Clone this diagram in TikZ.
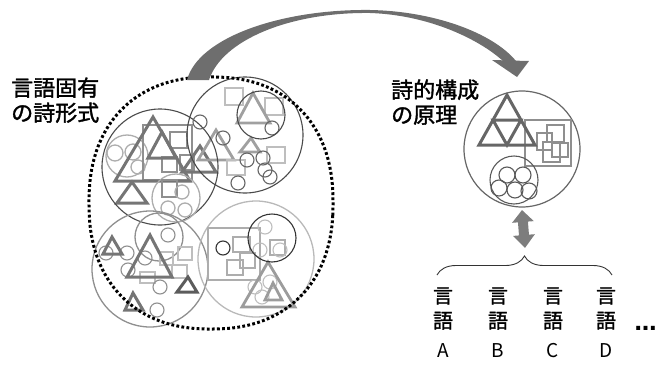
\documentclass[tikz,border=0pt]{standalone}
\usepackage{fontspec}
\newfontfamily\jp{Noto Sans CJK JP}[FakeBold=1.6]
\newfontfamily\jpreg{Noto Sans CJK JP}
\newfontfamily\dv{DejaVu Sans}
\usetikzlibrary{decorations.pathreplacing,arrows.meta}
\definecolor{arrowgray}{HTML}{6E6E6E}
\definecolor{dkline}{HTML}{4A4A4A}
\definecolor{trigray}{HTML}{757575}
\definecolor{midgray}{HTML}{8F8F8F}
\definecolor{ltgray}{HTML}{ADADAD}
\definecolor{vltgray}{HTML}{BEBEBE}
\begin{document}
\begin{tikzpicture}[x=1pt,y=-1pt,
  dk/.style={draw=dkline, line width=1.1pt},
  lt/.style={draw=ltgray, line width=1.3pt},
  md/.style={draw=midgray, line width=1.3pt},
  tri/.style={draw=trigray, line width=3pt},
  trilt/.style={draw=midgray!85, line width=2.8pt},
  sqm/.style={draw=midgray, line width=2pt},
  sql/.style={draw=vltgray, line width=2pt},
  sc/.style={draw=#1, line width=1.1pt},
  dotring/.style={draw=black, line width=3pt, dash pattern=on 2.8pt off 2.3pt},
  jptext/.style={font=\jp\fontsize{22}{22}\selectfont, inner sep=0pt, anchor=base west},
  coltext/.style={font=\jp\fontsize{20}{20}\selectfont, inner sep=0pt, anchor=base},
  lettext/.style={font=\jpreg\fontsize{19}{19}\selectfont, inner sep=0pt, anchor=base}]
\useasboundingbox (0,0) rectangle (662,367);

% ---------- upper-left cluster (A) ----------
\draw[lt] (127,156) circle[radius=21pt];
\foreach \p/\r in {{(115,153)}/8,{(133,152)}/8,{(138,167)}/7}
  \draw[lt] \p circle[radius=\r pt];
\draw[sqm] (143,125) rectangle (192,180);
\draw[sqm] (170,132) rectangle (187,148);
\draw[sqm] (162,157) rectangle (177,172);
\draw[sqm] (180,155) rectangle (194,170);
\draw[tri] (153,117) -- (115,181) -- (190,181) -- cycle;
\draw[tri] (162,132) -- (148,158) -- (176,158) -- cycle;
\draw[tri] (132,182) -- (117,203) -- (147,203) -- cycle;
\draw[tri] (200,146) -- (182,172) -- (216,172) -- cycle;
\draw[trilt] (216,130) -- (198,160) -- (234,160) -- cycle;
\draw[dk] (160,167) circle[radius=58pt];

% circle G
\draw[lt] (176,198) circle[radius=24pt];
\draw[sqm] (162,180) rectangle (177,197);
\foreach \p in {(182,192),(168,208),(185,210)}
  \draw[lt] \p circle[radius=7pt];

% ---------- upper-right cluster (B) ----------
\draw[sql] (225,88) rectangle (243,105);
\draw[sql] (265,98) rectangle (283,115);
\draw[sql] (267,147) rectangle (285,163);
\draw[sql] (227,160) rectangle (245,175);
\draw[trilt] (253,93) -- (237,123) -- (270,123) -- cycle;
\draw[trilt] (251,138) -- (240,152) -- (260,152) -- cycle;
\foreach \p in {(200,122),(223,138),(272,128),(247,160),(263,158),(265,170),(270,177),(238,183)}
  \draw[sc=dkline!85] \p circle[radius=7pt];
\draw[dk] (245,135) circle[radius=58pt];
\draw[dk] (261,115) circle[radius=24pt];

% ---------- lower-left cluster (D) ----------
\draw[md] (150,269) circle[radius=58pt];
\draw[md] (159,237) circle[radius=24pt];
\draw[sql] (140,272) rectangle (155,283);
\draw[sql] (160,252) rectangle (173,265);
\draw[sql] (178,247) rectangle (192,260);
\draw[sql] (172,265) rectangle (187,278);
\foreach \p in {(106,253),(127,253),(145,258),(128,270),(168,235),(160,287),(157,310)}
  \draw[sc=midgray] \p circle[radius=7pt];
\draw[tri] (150,235) -- (127,277) -- (172,277) -- cycle;
\draw[tri] (112,237) -- (103,254) -- (122,254) -- cycle;
\draw[tri, draw=dkline!90] (188,277) -- (177,292) -- (197,292) -- cycle;
\draw[tri] (133,293) -- (125,310) -- (143,310) -- cycle;

% ---------- lower-right cluster (E) ----------
\draw[lt, draw=ltgray!85] (256,259) circle[radius=58pt];
\draw[sqm, draw=ltgray] (208,228) rectangle (260,280);
\draw[sc=black!80] (223,248) circle[radius=7pt];
\draw[sqm, draw=ltgray] (233,237) rectangle (250,252);
\draw[sqm, draw=ltgray] (227,260) rectangle (243,275);
\draw[sqm, draw=ltgray] (240,253) rectangle (255,268);
\draw[sqm, draw=ltgray] (270,240) rectangle (285,255);
\foreach \p in {(265,227),(260,250),(280,250),(255,287),(270,282),(262,297)}
  \draw[sc=vltgray] \p circle[radius=7pt];
\draw[trilt, draw=ltgray!90!black] (268,262) -- (242,307) -- (295,307) -- cycle;
\draw[trilt, draw=ltgray!90!black] (273,283) -- (265,300) -- (282,300) -- cycle;
\draw[dk, draw=black!80] (272,238) circle[radius=24pt];

% ---------- dotted boundary (slightly squarish ring) ----------
\draw[dotring] plot[smooth cycle, domain=1:358, samples=120, variable=\t]
  ({211 + 122*sign(cos(\t))*abs(cos(\t))^0.88},
   {203 + 126*sign(sin(\t))*abs(sin(\t))^0.88});

% ---------- curved arrow ----------
\fill[arrowgray] (187,80) .. controls (198,38) and (280,9) .. (370,10)
  .. controls (432,11) and (492,32) .. (516,61) -- (503,61)
  .. controls (480,40) and (430,15) .. (370,13)
  .. controls (290,12) and (222,40) .. (209,80) -- cycle;
\fill[arrowgray] (492,60) -- (529,61) -- (517,77) -- cycle;

% ---------- texts ----------
\node[jptext] (t1) at (11,96) {言語固有};
\node[jptext] (t2) at (11,121) {の詩形式};
\node[jptext] (t3) at (391,98) {詩的構成};
\node[jptext] (t4) at (391,123) {の原理};

% ---------- right circle ----------
\node[circle, draw=black!60, line width=1.2pt, minimum size=116pt, inner sep=0pt, outer sep=0pt] (rc) at (522,149) {};
\draw[sqm] (525,120) rectangle (571,166);
\draw[sqm] (547,125) rectangle (564,142);
\draw[sqm] (537,133) rectangle (552,150);
\draw[sqm] (543,142) rectangle (560,162);
\draw[sqm] (552,143) rectangle (568,157);
\draw[tri, draw=black!60] (507,95) -- (479,145) -- (535,145) -- cycle;
\draw[tri, draw=black!60] (493,120) -- (521,120) -- (507,145) -- cycle;
\draw[dk, draw=black!65] (514,180) circle[radius=24pt];
\foreach \p in {(507,175),(523,175),(499,188),(515,190),(529,191)}
  \draw[sc=black!65] \p circle[radius=8pt];

% ---------- double arrow and brace ----------
\coordinate (brtip) at (525,248);
\draw[draw=arrowgray!90!white, line width=10pt,
  {Triangle[width=21pt,length=12pt]}-{Triangle[width=21pt,length=13pt]}]
  ([yshift=-3pt]rc.south) -- (brtip);
\coordinate (bl) at (437,275);
\coordinate (br) at (612,275);
\draw[black!80, line width=0.9pt, decorate, decoration={brace, amplitude=19pt}] (bl) -- (br);

% ---------- columns ----------
\foreach \x/\l [count=\i] in {443/A,498/B,553/C,606/D}{
  \node[coltext] (g\i) at (\x,303) {言};
  \node[coltext] (h\i) at (\x,328) {語};
  \node[lettext] (l\i) at (\x,357) {\l};
}
\node[font=\dv\bfseries\fontsize{22}{22}\selectfont, inner sep=0pt, anchor=base] (dots) at (645.5,330) {…};
\end{tikzpicture}
\end{document}
